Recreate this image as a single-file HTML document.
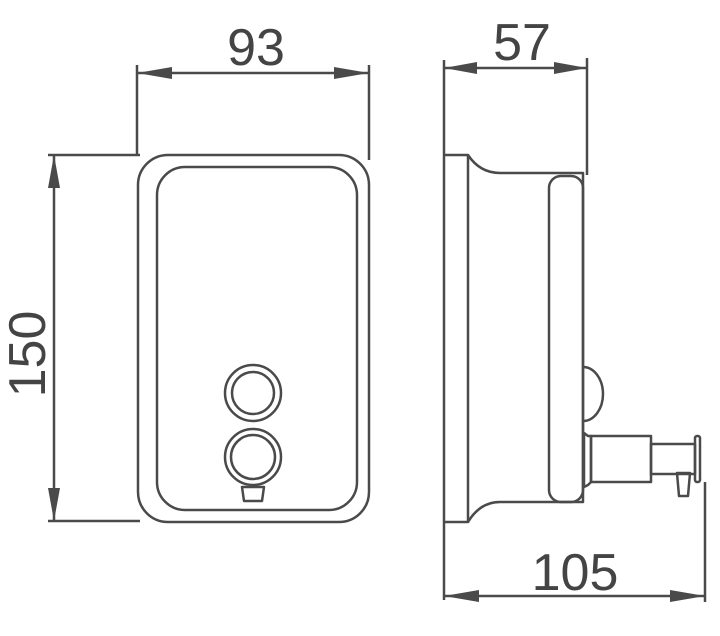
<!DOCTYPE html>
<html><head><meta charset="utf-8"><style>
html,body{margin:0;padding:0;background:#fff;}
svg{display:block;}
text{font-family:"Liberation Sans",sans-serif;fill:#444;}
</style></head><body>
<svg width="720" height="636" viewBox="0 0 720 636" xmlns="http://www.w3.org/2000/svg">
<g fill="none" stroke="#4a4a4a" stroke-width="2.5" stroke-linejoin="round">
<!-- front view -->
<rect x="138" y="155" width="231" height="367" rx="30"/>
<rect x="157" y="167" width="200" height="343" rx="28"/>
<circle cx="253" cy="393" r="28"/>
<circle cx="253" cy="393" r="21"/>
<circle cx="253" cy="457" r="28"/>
<circle cx="253" cy="457" r="22"/>
<path d="M242 487 L264 487 L262 501 L244 501 Z"/>
<!-- side view -->
<line x1="444" y1="155" x2="444" y2="600"/>
<path d="M444 155 L468 155 L468 522 L444 522"/>
<path d="M468 155 Q480 173 500 173 L583 173 L583 502 L500 502 Q480 502 468 522"/>
<rect x="549" y="176" width="34" height="326" rx="12"/>
<path d="M583 367 A20 27 0 0 1 583 421"/>
<path d="M584 433 L588 436 L591 436 L591 482 L588 485 L584 487 Z"/>
<rect x="591" y="436" width="60" height="46"/>
<rect x="651" y="444" width="44" height="30"/>
<rect x="695" y="436" width="5" height="46" rx="2"/>
<path d="M677 473 L690 473 L688 496 L679 496 Z"/>
<!-- extension lines -->
<line x1="137" y1="65" x2="137" y2="155"/>
<line x1="369" y1="65" x2="369" y2="160"/>
<line x1="444" y1="60" x2="444" y2="155"/>
<line x1="587" y1="58" x2="587" y2="175"/>
<line x1="48" y1="155" x2="140" y2="155"/>
<line x1="48" y1="521" x2="140" y2="521"/>
<line x1="705" y1="482" x2="705" y2="602"/>
<!-- dimension lines -->
<line x1="137" y1="73" x2="369" y2="73"/>
<line x1="444" y1="68" x2="587" y2="68"/>
<line x1="54" y1="155" x2="54" y2="521"/>
<line x1="444" y1="596" x2="705" y2="596"/>
</g>
<g fill="#4a4a4a">
<path d="M137 73 L172 67 L172 79 Z"/><path d="M369 73 L334 67 L334 79 Z"/>
<path d="M444 68 L477 62 L477 74 Z"/><path d="M587 68 L554 62 L554 74 Z"/>
<path d="M54 155 L48 188 L60 188 Z"/><path d="M54 521 L48 488 L60 488 Z"/>
<path d="M444 596 L479 590 L479 602 Z"/><path d="M705 596 L670 590 L670 602 Z"/>
</g>
<text x="256" y="65" font-size="52" text-anchor="middle">93</text>
<text x="522" y="60" font-size="52" text-anchor="middle">57</text>
<text x="575" y="590" font-size="52" text-anchor="middle">105</text>
<text transform="translate(45,354) rotate(-90)" font-size="52" text-anchor="middle">150</text>
</svg>
</body></html>
